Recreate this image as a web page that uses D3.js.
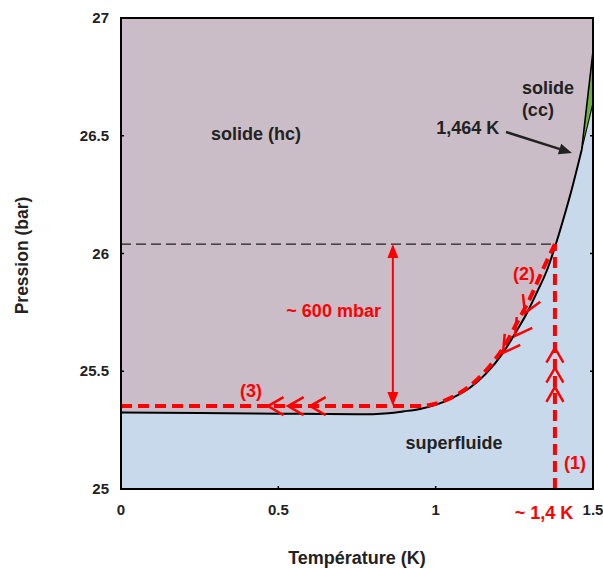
<!DOCTYPE html>
<html><head><meta charset="utf-8">
<script src="https://cdn.jsdelivr.net/npm/d3@7"></script>
<style>
body{margin:0;background:#fff;}
text{font-family:"Liberation Sans",Arial,sans-serif;font-weight:bold;}
</style></head>
<body><svg id="c" width="603" height="568"></svg>
<script>
// ---- data ----
const meltT = [0, 0.25, 0.5, 0.75, 0.85, 0.9, 0.95, 1.0, 1.05, 1.109, 1.16, 1.214, 1.25, 1.29, 1.32, 1.354, 1.386, 1.405, 1.43, 1.464];
const meltP = [25.325, 25.323, 25.32, 25.317, 25.322, 25.33, 25.34, 25.357, 25.385, 25.43, 25.49, 25.578, 25.655, 25.747, 25.83, 25.93, 26.057, 26.142, 26.26, 26.44];
const hcpBccT = [1.464, 1.5];
const hcpBccP = [26.44, 26.86];
const bccLiqT = [1.464, 1.5];
const bccLiqP = [26.44, 26.64];
const pathT = [0, 0.95, 1.0, 1.06, 1.12, 1.18, 1.22, 1.26, 1.30, 1.34, 1.379];
const pathP = [25.352, 25.352, 25.362, 25.395, 25.45, 25.535, 25.61, 25.71, 25.81, 25.93, 26.04];
const pathVT = [1.379, 1.379];
const pathVP = [25, 26.04];
const refP = 26.04, refT = 1.379;
const gapT = 0.864, gapTop = 26.04, gapBot = 25.352;
const chevVP = [25.599, 25.514, 25.433];                 // (1) upward
const chevCT = [1.2839, 1.2521, 1.214];                  // (2) along curve
const chevCP = [25.747, 25.650, 25.578];
const chevHT = [0.467, 0.531, 0.601];                    // (3) leftward
const xTicks = [0, 0.5, 1, 1.5];
const yTicks = [25, 25.5, 26, 26.5, 27];
const xTickLabels = ["0", "0.5", "1", "1.5"];
const yTickLabels = ["25", "25.5", "26", "26.5", "27"];

// ---- layout ----
const svg = d3.select("#c");
const L = 121, T0 = 18, W = 472, H = 471;
const x = d3.scaleLinear().domain([0, 1.5]).range([L, L + W]);
const y = d3.scaleLinear().domain([25, 27]).range([T0 + H, T0]);
const RED = "#ff0000";
const MAUVE = "#cbbdc7", BLUE = "#c8d9eb", GREEN = "#6db33f";

const defs = svg.append("defs");
defs.append("clipPath").attr("id", "clip").append("rect")
  .attr("x", L).attr("y", T0).attr("width", W).attr("height", H);
const g = svg.append("g").attr("clip-path", "url(#clip)");

g.append("rect").attr("x", L).attr("y", T0).attr("width", W).attr("height", H).attr("fill", MAUVE);

const melt = meltT.map((t, i) => [t, meltP[i]]);
const line = d3.line().x(d => x(d[0])).y(d => y(d[1])).curve(d3.curveMonotoneX);
const lin = d3.line().x(d => x(d[0])).y(d => y(d[1]));

// superfluid area
g.append("path")
  .attr("d", line(melt) + "L" + x(bccLiqT[1]) + "," + y(bccLiqP[1]) + "L" + x(1.5) + "," + y(25) + "L" + x(0) + "," + y(25) + "Z")
  .attr("fill", BLUE);
// green bcc wedge
g.append("path")
  .attr("d", lin([[hcpBccT[0], hcpBccP[0]], [hcpBccT[1], hcpBccP[1]], [bccLiqT[1], bccLiqP[1]]]) + "Z")
  .attr("fill", GREEN);

// curves
g.append("path").attr("d", line(melt)).attr("fill", "none").attr("stroke", "#000").attr("stroke-width", 2);
g.append("path").attr("d", lin(hcpBccT.map((t, i) => [t, hcpBccP[i]]))).attr("fill", "none").attr("stroke", "#000").attr("stroke-width", 1.6);
g.append("path").attr("d", lin(bccLiqT.map((t, i) => [t, bccLiqP[i]]))).attr("fill", "none").attr("stroke", "#000").attr("stroke-width", 1.1);

// reference dashed line
g.append("line").attr("x1", x(0)).attr("x2", x(refT)).attr("y1", y(refP)).attr("y2", y(refP))
  .attr("stroke", "#222").attr("stroke-width", 1.2).attr("stroke-dasharray", "10,5");

// red paths
g.append("path").attr("d", line(pathT.map((t, i) => [t, pathP[i]])))
  .attr("fill", "none").attr("stroke", RED).attr("stroke-width", 4).attr("stroke-dasharray", "11,6");
g.append("path").attr("d", lin(pathVT.map((t, i) => [t, pathVP[i]])))
  .attr("fill", "none").attr("stroke", RED).attr("stroke-width", 4).attr("stroke-dasharray", "11,6");

// chevrons
function chevron(px, py, angDeg, len) {
  const half = 30 * Math.PI / 180, a = angDeg * Math.PI / 180;
  const back = a + Math.PI;
  const p1 = [px + len * Math.cos(back - half), py + len * Math.sin(back - half)];
  const p2 = [px + len * Math.cos(back + half), py + len * Math.sin(back + half)];
  g.append("path").attr("d", `M${p1[0]},${p1[1]}L${px},${py}L${p2[0]},${p2[1]}`)
    .attr("fill", "none").attr("stroke", RED).attr("stroke-width", 2.5);
}
chevVP.forEach(p => chevron(x(refT), y(p), -90, 17));
chevHT.forEach(t => chevron(x(t), y(pathP[0]), 180, 18));
chevCT.forEach((t, i) => {
  const j = i < chevCT.length - 1 ? i + 1 : i, k = i < chevCT.length - 1 ? i : i - 1;
  const dx = x(chevCT[j]) - x(chevCT[k]), dy = y(chevCP[j]) - y(chevCP[k]);
  chevron(x(t), y(chevCP[i]), Math.atan2(dy, dx) * 180 / Math.PI, 19);
});

// double arrow ~600 mbar
function head(px, py, angDeg, len, hw, col) {
  const a = angDeg * Math.PI / 180;
  const bx = px - len * Math.cos(a), by = py - len * Math.sin(a);
  const nx = -Math.sin(a), ny = Math.cos(a);
  svg.append("path").attr("d", `M${px},${py}L${bx + nx * hw},${by + ny * hw}L${bx - nx * hw},${by - ny * hw}Z`).attr("fill", col);
}
svg.append("line").attr("x1", x(gapT)).attr("x2", x(gapT)).attr("y1", y(gapTop) + 10).attr("y2", y(gapBot) - 10)
  .attr("stroke", RED).attr("stroke-width", 2);
head(x(gapT), y(gapTop), -90, 14, 5.5, RED);
head(x(gapT), y(gapBot), 90, 14, 5.5, RED);

// 1,464 K arrow
const arrFrom = [1.2235, 26.516], arrTo = [1.433, 26.427];
{
  const x1 = x(arrFrom[0]), y1 = y(arrFrom[1]), x2 = x(arrTo[0]), y2 = y(arrTo[1]);
  const ang = Math.atan2(y2 - y1, x2 - x1);
  svg.append("line").attr("x1", x1).attr("y1", y1).attr("x2", x2 - 10 * Math.cos(ang)).attr("y2", y2 - 10 * Math.sin(ang))
    .attr("stroke", "#222").attr("stroke-width", 2.5);
  head(x2, y2, ang * 180 / Math.PI, 13, 5.5, "#222");
}

// frame
svg.append("rect").attr("x", L).attr("y", T0).attr("width", W).attr("height", H)
  .attr("fill", "none").attr("stroke", "#000").attr("stroke-width", 2);

// ticks (inward)
xTicks.forEach(t => svg.append("line").attr("x1", x(t)).attr("x2", x(t)).attr("y1", T0 + H).attr("y2", T0 + H - 3).attr("stroke", "#000").attr("stroke-width", 1.5));
yTicks.forEach(p => {
  svg.append("line").attr("x1", L).attr("x2", L + 3).attr("y1", y(p)).attr("y2", y(p)).attr("stroke", "#000").attr("stroke-width", 1.5);
  svg.append("line").attr("x1", L + W).attr("x2", L + W - 3).attr("y1", y(p)).attr("y2", y(p)).attr("stroke", "#000").attr("stroke-width", 1.5);
});

// tick labels
xTicks.forEach((t, i) => svg.append("text").attr("x", x(t)).attr("y", T0 + H + 26)
  .attr("text-anchor", "middle").attr("font-size", 15).attr("fill", "#222").text(xTickLabels[i]));
yTicks.forEach((p, i) => svg.append("text").attr("x", L - 12).attr("y", y(p) + 5)
  .attr("text-anchor", "end").attr("font-size", 15).attr("fill", "#222").text(yTickLabels[i]));

// axis titles
svg.append("text").attr("transform", `translate(28,${y(26) + 2}) rotate(-90)`).attr("text-anchor", "middle")
  .attr("font-size", 17.5).attr("fill", "#222").text("Pression (bar)");
svg.append("text").attr("x", 357).attr("y", 564).attr("text-anchor", "middle")
  .attr("font-size", 18).attr("fill", "#222").text("Température (K)");

// region labels
function lab(t, p, s, anchor, col, fs) {
  svg.append("text").attr("x", x(t)).attr("y", y(p)).attr("text-anchor", anchor || "start")
    .attr("font-size", fs || 18).attr("fill", col || "#222").text(s);
}
lab(0.429, 26.482, "solide (hc)", "middle");
lab(1.274, 26.677, "solide");
lab(1.274, 26.584, "(cc)");
lab(1.002, 26.507, "1,464 K");
lab(1.058, 25.17, "superfluide", "middle");
lab(1.408, 25.085, "(1)", "start", RED);
lab(1.246, 25.887, "(2)", "start", RED);
lab(0.378, 25.391, "(3)", "start", RED);
lab(0.5255, 25.73, "~ 600 mbar", "start", RED);
svg.append("text").attr("x", x(1.344)).attr("y", T0 + H + 30).attr("text-anchor", "middle")
  .attr("font-size", 18).attr("fill", RED).text("~ 1,4 K");
</script></body></html>
